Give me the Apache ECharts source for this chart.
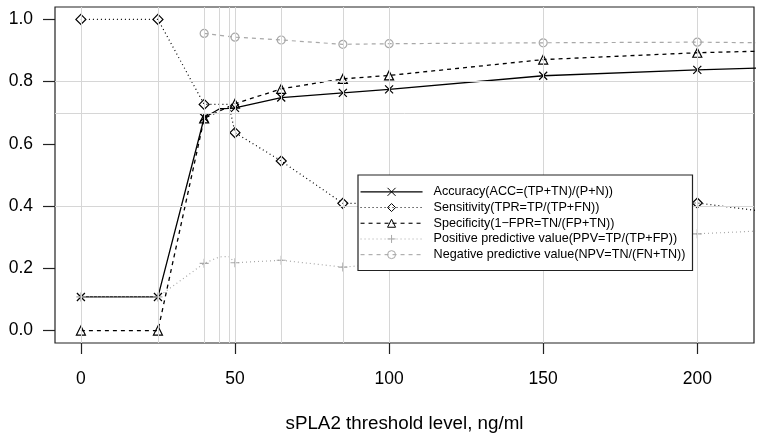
<!DOCTYPE html>
<html>
<head>
<meta charset="utf-8">
<script src="https://cdn.jsdelivr.net/npm/echarts@6/dist/echarts.min.js"></script>
<style>html,body{margin:0;padding:0;background:#fff;}#c{width:762px;height:441px;}</style>
</head>
<body>
<div id="c"></div>
<script>
// ---- data ----
const accX  = [0, 25, 40, 45, 48, 50, 65, 85, 100, 150, 200, 220];
const accY  = [0.108, 0.108, 0.684, 0.713, 0.714, 0.716, 0.749, 0.764, 0.775, 0.819, 0.838, 0.844];
const sensX = [0, 25, 40, 45, 48, 50, 65, 85, 100, 150, 200, 220];
const sensY = [1.0, 1.0, 0.727, 0.727, 0.727, 0.636, 0.545, 0.409, 0.409, 0.41, 0.41, 0.385];
const specX = [0, 25, 40, 50, 65, 85, 100, 150, 200, 220];
const specY = [0.0, 0.0, 0.682, 0.729, 0.777, 0.809, 0.82, 0.871, 0.893, 0.898];
const ppvX  = [0, 25, 40, 45, 48, 50, 65, 85, 100, 150, 200, 220];
const ppvY  = [0.108, 0.108, 0.216, 0.237, 0.238, 0.218, 0.226, 0.204, 0.215, 0.27, 0.311, 0.32];
const npvX  = [40, 50, 65, 85, 100, 150, 200, 220];
const npvY  = [0.955, 0.943, 0.934, 0.92, 0.922, 0.925, 0.927, 0.925];
const noMarkerX = [45, 48, 220];
const gridX = [0, 25, 40, 45, 48, 50, 65, 85, 100, 150, 200];
const gridY = [0.4, 0.7, 0.8];
const xTicks = [0, 50, 100, 150, 200];
const yTicks = [0, 0.2, 0.4, 0.6, 0.8, 1.0];
const names = [
  'Accuracy(ACC=(TP+TN)/(P+N))',
  'Sensitivity(TPR=TP/(TP+FN))',
  'Specificity(1\u2212FPR=TN/(FP+TN))',
  'Positive predictive value(PPV=TP/(TP+FP))',
  'Negative predictive value(NPV=TN/(FN+TN))'
];
const xTitle = 'sPLA2 threshold level, ng/ml';

function pts(xs, ys) {
  return xs.map((x, i) => noMarkerX.includes(x)
    ? { value: [x, ys[i]], symbol: 'none' }
    : { value: [x, ys[i]] });
}

const FONT = 'Liberation Sans, Arial, Helvetica, sans-serif';
const crossPath = 'path://M0,0L10,10M10,0L0,10';
const plusPath = 'path://M5,0L5,10M0,5L10,5';
const GRAY = '#a8a8a8';

function mk(name, xs, ys, symbol, size, color, dash, width) {
  return {
    name: name, type: 'line', data: pts(xs, ys),
    symbol: symbol, symbolSize: size, showAllSymbol: true,
    lineStyle: { color: color, width: width, type: dash },
    itemStyle: { color: 'rgba(0,0,0,0)', borderColor: color, borderWidth: 1.2 },
    emphasis: { disabled: true }, z: 3
  };
}

const chart = echarts.init(document.getElementById('c'), null, { renderer: 'canvas' });
chart.setOption({
  animation: false,
  backgroundColor: '#fff',
  textStyle: { fontFamily: FONT },
  grid: { left: 55, right: 8, top: 7, bottom: 98, show: true, borderColor: '#222', borderWidth: 1.2, backgroundColor: 'transparent' },
  xAxis: {
    type: 'value', min: -8.4, max: 218.4,
    axisLine: { show: false, onZero: false },
    splitLine: { show: false },
    axisTick: { show: true, inside: false, length: 11, lineStyle: { color: '#222', width: 1.2 }, customValues: xTicks },
    axisLabel: { customValues: xTicks, margin: 27, fontSize: 17.5, color: '#000', fontFamily: FONT },
    name: xTitle, nameLocation: 'middle', nameGap: 71,
    nameTextStyle: { fontSize: 18.8, color: '#000', fontFamily: FONT }
  },
  yAxis: {
    type: 'value', min: -0.04, max: 1.04,
    axisLine: { show: false, onZero: false },
    splitLine: { show: false },
    axisTick: { show: true, inside: false, length: 12, lineStyle: { color: '#222', width: 1.2 }, customValues: yTicks },
    axisLabel: { customValues: yTicks, margin: 22, fontSize: 17.5, color: '#000', fontFamily: FONT,
      formatter: v => Number(v).toFixed(1) }
  },
  legend: {
    data: names, z: 50,
    orient: 'vertical', left: 358, top: 175,
    padding: [9, 7, 8, 2],
    itemWidth: 62, itemHeight: 10, itemGap: 0,
    lineStyle: { width: 1.1 },
    itemStyle: { borderWidth: 1 },
    backgroundColor: '#fff', borderColor: '#222', borderWidth: 1.2,
    textStyle: { fontSize: 12.6, color: '#000', lineHeight: 15.7, padding: [0, 0, 0, 6], fontFamily: FONT },
    selectedMode: false
  },
  series: [
    {
      name: 'grid', type: 'line', data: [[0, 0]], symbol: 'none', lineStyle: { opacity: 0 }, z: 1, silent: true,
      markLine: {
        silent: true, symbol: ['none', 'none'], label: { show: false },
        lineStyle: { color: '#d6d6d6', width: 1, type: 'solid' },
        emphasis: { disabled: true },
        data: gridX.map(v => ({ xAxis: v })).concat(gridY.map(v => ({ yAxis: v })))
      }
    },
    mk(names[0], accX, accY, crossPath, 8, '#000', 'solid', 1.3),
    mk(names[1], sensX, sensY, 'diamond', 10, '#000', [1, 3], 1.2),
    mk(names[2], specX, specY, 'triangle', 9, '#000', [4, 4], 1.3),
    mk(names[3], ppvX, ppvY, plusPath, 9, GRAY, [1, 3], 1.2),
    mk(names[4], npvX, npvY, 'circle', 8, GRAY, [4, 4], 1.2)
  ]
});
</script>
</body>
</html>
